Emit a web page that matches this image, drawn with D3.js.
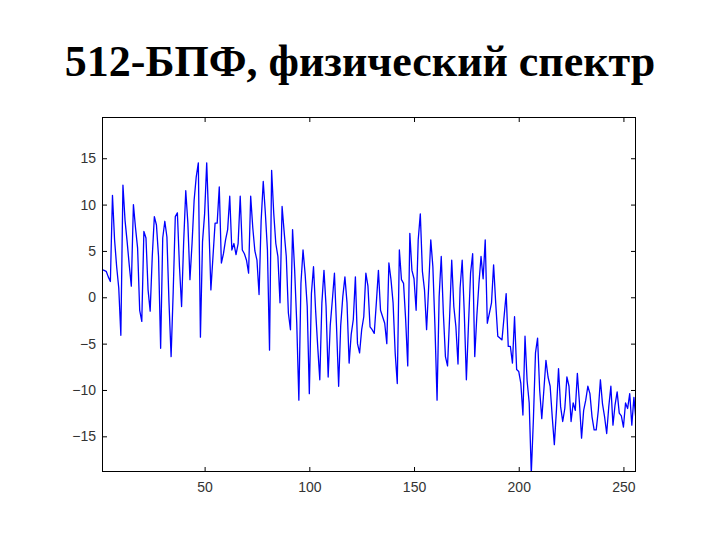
<!DOCTYPE html>
<html><head><meta charset="utf-8">
<script src="https://cdn.jsdelivr.net/npm/d3@7"></script>
<style>body{margin:0;background:#fff}</style>
</head><body>
<svg id="c" width="720" height="540"></svg>
<script>
const titleText = "512-БПФ, физический спектр";
const xTicks = [50, 100, 150, 200, 250];
const yTicks = [-15, -10, -5, 0, 5, 10, 15];
const spectrum = [
 3.0, 2.9, 2.8, 2.2, 1.7, 11.0, 6.2, 3.3, 1.0, -4.1,
 12.1, 8.3, 6.0, 3.5, 1.2, 10.0, 7.5, 5.3, -1.4, -2.6,
 7.1, 6.4, 0.8, -1.5, 4.4, 8.7, 7.8, 4.4, -5.5, 6.4,
 8.2, 6.5, -0.6, -6.4, 0.6, 8.7, 9.1, 3.3, -1.0, 6.0,
 11.5, 8.0, 1.9, 5.8, 10.5, 13.0, 14.5, -4.3, 6.0, 9.0,
 14.5, 8.0, 0.8, 4.4, 8.0, 8.0, 11.9, 3.7, 4.7, 6.2,
 7.3, 10.9, 5.1, 5.8, 4.6, 5.8, 10.9, 5.1, 4.7, 4.0,
 2.6, 10.9, 7.5, 5.0, 4.0, 0.3, 8.3, 12.5, 9.1, 5.1,
 -5.7, 13.7, 9.1, 5.8, 4.4, -0.6, 9.8, 7.0, 4.4, -1.7,
 -3.5, 7.3, 2.9, -2.8, -11.1, 1.5, 5.1, 2.5, -1.0, -10.4,
 0.4, 3.3, -1.4, -5.3, -8.9, -0.6, 2.9, -1.0, -8.6, -3.0,
 -0.3, 2.6, -3.2, -9.6, -3.0, 0.1, 2.2, -0.6, -7.1, -4.0,
 -2.4, 2.2, -5.0, -6.0, -3.5, -2.1, 2.6, 1.2, -3.2, -3.5,
 -3.9, -0.6, 2.9, -1.4, -2.1, -2.8, -5.0, 3.7, 1.9, -0.6,
 -6.0, -9.3, 5.1, 1.9, 1.5, -2.4, -7.4, 6.9, 2.9, 2.0,
 -1.4, 6.2, 9.0, 2.8, 0.8, -3.5, 1.2, 6.2, 3.3, -3.2,
 -11.1, 0.1, 4.4, -1.7, -6.4, -7.4, -2.1, 4.0, -1.0, -3.2,
 -7.2, 1.0, 4.0, -1.7, -8.9, -3.0, 2.6, 4.7, -6.4, -2.0,
 1.5, 4.4, 2.0, 6.2, -2.8, -1.7, -0.6, 3.5, -0.6, -4.2,
 -4.4, -4.6, -2.1, 0.4, -5.3, -5.3, -7.1, -2.1, -7.8, -8.0,
 -9.3, -12.7, -4.2, -9.0, -11.4, -19.0, -13.2, -6.0, -4.4, -10.0,
 -13.1, -10.0, -6.8, -8.6, -9.6, -12.9, -15.9, -12.2, -7.7, -11.8,
 -13.4, -12.0, -8.6, -9.6, -13.4, -11.4, -12.2, -8.2, -11.4, -15.2,
 -12.2, -11.1, -9.6, -10.4, -12.9, -14.3, -14.3, -12.2, -8.9, -11.5,
 -12.9, -14.7, -11.8, -9.6, -13.8, -11.6, -10.2, -12.5, -12.8, -14.0,
 -11.4, -12.0, -10.4, -13.8, -10.8, -13.3
];
const bins = spectrum.map((d, i) => i + 1);

const svg = d3.select("#c");
const L = 102, T = 117, R = 636, B = 472;
const x = d3.scaleLinear().domain([1, 256]).range([L, R]);
const y = d3.scaleLinear().domain([-18.85, 19.45]).range([B, T]);

svg.append("text")
  .attr("x", 360).attr("y", 76)
  .attr("text-anchor", "middle")
  .style("font-family", "'Liberation Serif', 'Times New Roman', serif")
  .style("font-weight", "bold")
  .style("font-size", "44px")
  .text(titleText);

svg.append("defs").append("clipPath").attr("id", "clip")
  .append("rect").attr("x", L).attr("y", T).attr("width", R - L).attr("height", B - T);

const line = d3.line().x((d, i) => x(bins[i])).y(d => y(d));
svg.append("path")
  .datum(spectrum)
  .attr("clip-path", "url(#clip)")
  .attr("fill", "none")
  .attr("stroke", "#0000ff")
  .attr("stroke-width", 1.3)
  .attr("stroke-linejoin", "round")
  .attr("d", line);

function styleAxis(g) {
  g.select(".domain").remove();
  g.selectAll(".tick line").attr("stroke", "#000");
  g.selectAll(".tick text")
    .style("font-family", "'Liberation Sans', Arial, sans-serif")
    .style("font-size", "14px")
    .attr("fill", "#333");
}
svg.append("g").attr("transform", `translate(0,${B})`)
  .call(d3.axisBottom(x).tickValues(xTicks).tickSize(-5).tickPadding(10))
  .call(styleAxis);
svg.append("g").attr("transform", `translate(0,${T})`)
  .call(d3.axisTop(x).tickValues(xTicks).tickSize(-5).tickFormat(""))
  .call(styleAxis);
svg.append("g").attr("transform", `translate(${L},0)`)
  .call(d3.axisLeft(y).tickValues(yTicks).tickSize(-5).tickPadding(6))
  .call(styleAxis);
svg.append("g").attr("transform", `translate(${R},0)`)
  .call(d3.axisRight(y).tickValues(yTicks).tickSize(-5).tickFormat(""))
  .call(styleAxis);

svg.append("rect")
  .attr("x", L + 0.5).attr("y", T + 0.5)
  .attr("width", R - L - 1).attr("height", B - T - 1)
  .attr("fill", "none").attr("stroke", "#000").attr("stroke-width", 1);
</script>
</body></html>
